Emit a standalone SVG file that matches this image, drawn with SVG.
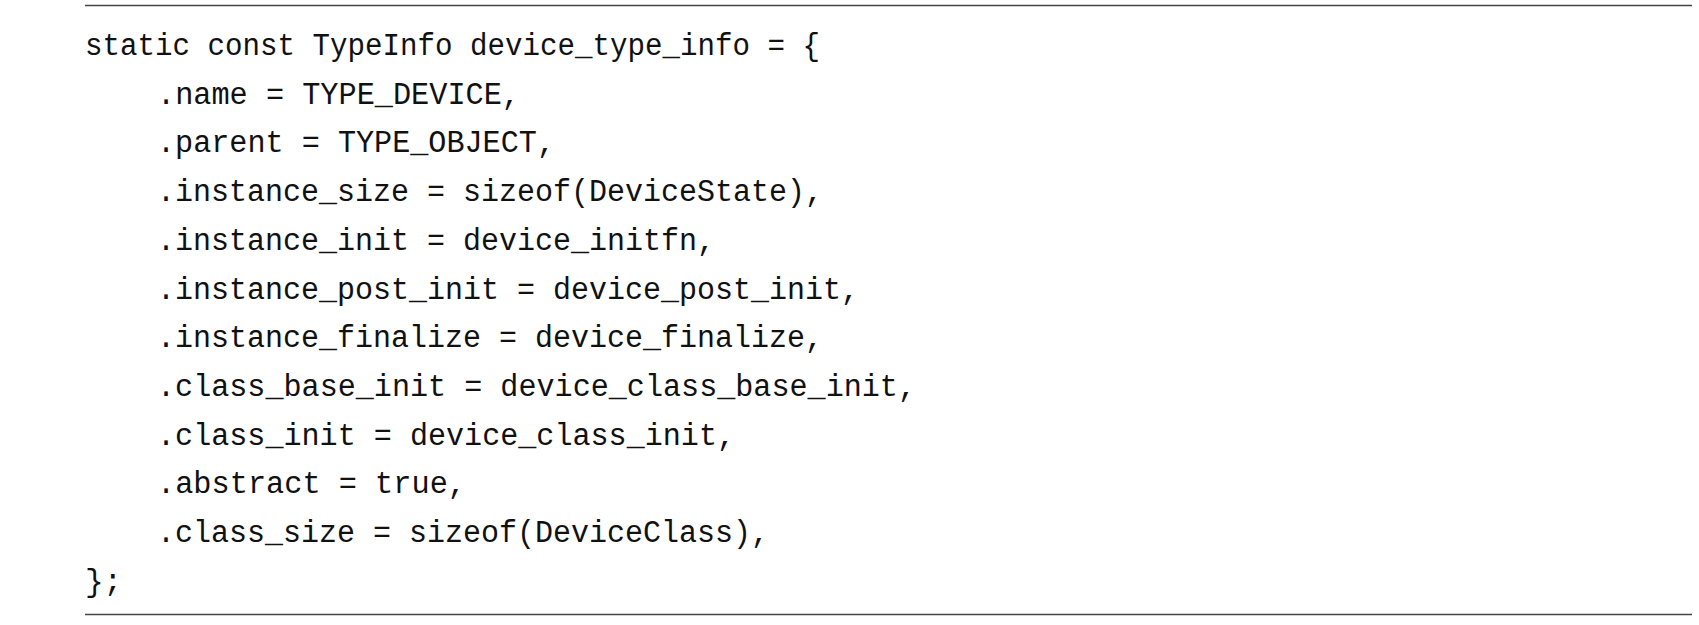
<svg xmlns="http://www.w3.org/2000/svg" width="1699" height="625" viewBox="0 0 1699 625">
<style>
text{font-family:"Liberation Mono","DejaVu Sans Mono",monospace;font-size:31px;fill:#111}
line{stroke:#444;stroke-width:1.6}
</style>
<rect width="1699" height="625" fill="#fff"/>
<line x1="85" y1="5.5" x2="1692" y2="5.5"/>
<line x1="85" y1="614.5" x2="1692" y2="614.5"/>
<g id="code">
<text x="85" y="55" textLength="735" lengthAdjust="spacingAndGlyphs">static const TypeInfo device_type_info = {</text>
<text x="157" y="103.7" textLength="363" lengthAdjust="spacingAndGlyphs">.name = TYPE_DEVICE,</text>
<text x="157" y="152.4" textLength="398" lengthAdjust="spacingAndGlyphs">.parent = TYPE_OBJECT,</text>
<text x="157" y="201.1" textLength="666" lengthAdjust="spacingAndGlyphs">.instance_size = sizeof(DeviceState),</text>
<text x="157" y="249.8" textLength="558" lengthAdjust="spacingAndGlyphs">.instance_init = device_initfn,</text>
<text x="157" y="298.5" textLength="702" lengthAdjust="spacingAndGlyphs">.instance_post_init = device_post_init,</text>
<text x="157" y="347.2" textLength="666" lengthAdjust="spacingAndGlyphs">.instance_finalize = device_finalize,</text>
<text x="157" y="395.9" textLength="759" lengthAdjust="spacingAndGlyphs">.class_base_init = device_class_base_init,</text>
<text x="157" y="444.6" textLength="578" lengthAdjust="spacingAndGlyphs">.class_init = device_class_init,</text>
<text x="157" y="493.3" textLength="309" lengthAdjust="spacingAndGlyphs">.abstract = true,</text>
<text x="157" y="542" textLength="612" lengthAdjust="spacingAndGlyphs">.class_size = sizeof(DeviceClass),</text>
<text x="85" y="590.7">};</text>
</g>
</svg>
